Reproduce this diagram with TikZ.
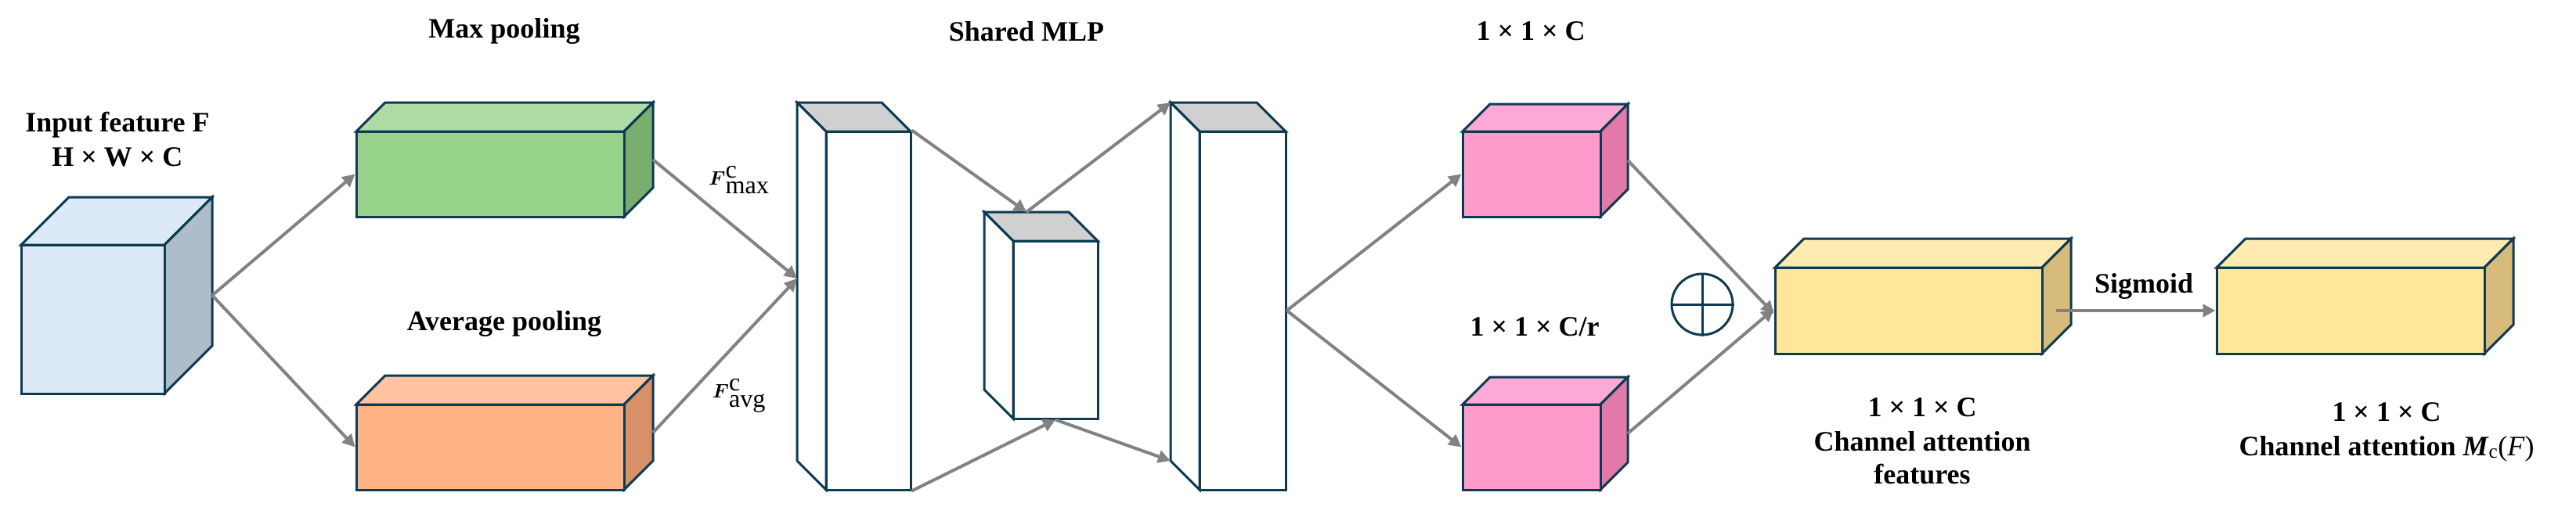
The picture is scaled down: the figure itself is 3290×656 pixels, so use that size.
\documentclass[tikz,border=0pt]{standalone}
\usepackage{amsmath}
\usepackage{fontspec}
\setmainfont{Liberation Serif}
\usetikzlibrary{arrows.meta}
\definecolor{edgec}{HTML}{0E3A52}
\definecolor{arrc}{HTML}{828282}
\definecolor{inF}{HTML}{DCEAF7}\definecolor{inS}{HTML}{AEBDC9}
\definecolor{gF}{HTML}{97D38A}\definecolor{gT}{HTML}{AEDCA4}\definecolor{gS}{HTML}{79AE6F}
\definecolor{oF}{HTML}{FFB385}\definecolor{oT}{HTML}{FFC39F}\definecolor{oS}{HTML}{D79068}
\definecolor{pF}{HTML}{FF9BCB}\definecolor{pT}{HTML}{FFAAD6}\definecolor{pS}{HTML}{E279A8}
\definecolor{yF}{HTML}{FFE699}\definecolor{yT}{HTML}{FFEBB0}\definecolor{yS}{HTML}{D6BB7A}
\definecolor{mT}{HTML}{D0D0D0}
\newcommand\cubR[9]{%
  \filldraw[#8,boxline] (#2,#3)--({#2+#6},{#3-#6})--({#4+#6},{#3-#6})--(#4,#3)--cycle;
  \filldraw[#9,boxline] (#4,#3)--({#4+#6},{#3-#6})--({#4+#6},{#5-#6})--(#4,#5)--cycle;
  \node[boxline,fill=#7,minimum width={(#4-#2)*1pt},minimum height={(#5-#3)*1pt}] (#1) at ({(#2+#4)/2},{(#3+#5)/2}) {};
  \coordinate (#1-side) at ({#4+#6},{(#3+#5)/2-#6/2});
}
\newcommand\cubL[6]{%
  \filldraw[mT,boxline] (#2,#3)--({#2-#6},{#3-#6})--({#4-#6},{#3-#6})--(#4,#3)--cycle;
  \filldraw[white,boxline] (#2,#3)--({#2-#6},{#3-#6})--({#2-#6},{#5-#6})--(#2,#5)--cycle;
  \node[boxline,fill=white,minimum width={(#4-#2)*1pt},minimum height={(#5-#3)*1pt}] (#1) at ({(#2+#4)/2},{(#3+#5)/2}) {};
  \coordinate (#1-topback) at ({(#2+#4)/2-#6},{#3-#6});
  \coordinate (#1-backtl) at ({#2-#6},{#3-#6});
  \coordinate (#1-backbl) at ({#2-#6},{#5-#6});
}
\begin{document}
\begin{tikzpicture}[x=1pt,y=-1pt,
  boxline/.style={draw=edgec,line width=3pt,inner sep=0pt,line join=miter},
  arr/.style={draw=arrc,line width=4pt,-{Triangle[length=16pt,width=16pt]}},
  lbl/.style={font=\bfseries\fontsize{36}{40}\selectfont,align=center,inner sep=0pt}]
\useasboundingbox (0,0) rectangle (3290,656);
\fill[white] (0,0) rectangle (3290,656);
\cubR{inp}{27}{313}{210}{503}{61}{inF}{inF}{inS}
\cubR{mx}{455}{168}{797}{277}{37}{gF}{gT}{gS}
\cubR{av}{455}{517}{797}{626}{37}{oF}{oT}{oS}
\cubL{mlpa}{1055}{168}{1163}{626}{37}
\cubL{mlpb}{1294}{308}{1402}{535}{37}
\cubL{mlpc}{1532}{168}{1642}{626}{37}
\cubR{pa}{1868}{168}{2044}{277}{35}{pF}{pT}{pS}
\cubR{pb}{1868}{517}{2044}{626}{35}{pF}{pT}{pS}
\cubR{ya}{2267}{342}{2608}{452}{37}{yF}{yT}{yS}
\cubR{yb}{2831}{342}{3173}{452}{37}{yF}{yT}{yS}
\node[lbl] (tin) at (150,178) {Input feature F\\[4pt]H × W × C};
\node[lbl] (tmx) at (644,40) {Max pooling};
\node[lbl] (tav) at (644,414) {Average pooling};
\node[lbl] (tml) at (1311,40) {Shared MLP};
\node[lbl] (tpa) at (1955,40) {1 × 1 × C};
\node[lbl] (tpb) at (1960,418) {1 × 1 × C/r};
\node[lbl] (tya) at (2455,564) {1 × 1 × C\\[4pt]Channel attention\\[2pt]features};
\node[lbl] (tyb) at (3048,552) {1 × 1 × C\\[4pt]Channel attention \textit{M}\textsubscript{\mdseries c}\mdseries(\textit{F})};
\node[font=\fontsize{46}{50}\selectfont,inner sep=0pt] (fmx) at (944,230) {$\boldsymbol{F}^{\mathrm{c}}_{\mathrm{max}}$};
\node[font=\fontsize{46}{50}\selectfont,inner sep=0pt] (fav) at (944,506) {$\boldsymbol{F}^{\mathrm{c}}_{\mathrm{avg}}$};
\node[draw=edgec,line width=3pt,circle,minimum size=78pt,inner sep=0pt] (plus) at (2174,389) {};
\draw[edgec,line width=3pt] (plus.north)--(plus.south) (plus.west)--(plus.east);
\draw[arr] (inp-side) -- (mx.west);
\draw[arr] (inp-side) -- (av.west);
\coordinate (m1in) at (1018,356);
\draw[arr] (mx-side) -- (m1in);
\draw[arr] (av-side) -- (m1in);
\draw[arr] (mlpa.north east) -- (mlpb-topback);
\draw[arr] (mlpb-topback) -- (mlpc-backtl);
\draw[arr] (mlpa.south east) -- (mlpb.south);
\draw[arr] (mlpb.south) -- (mlpc-backbl);
\draw[arr] (mlpc.east) -- (pa.west);
\draw[arr] (mlpc.east) -- (pb.west);
\draw[arr] (pa-side) -- ([yshift=-4pt]ya.west);
\draw[arr] (pb-side) -- ([yshift=2pt]ya.west);
\coordinate (sgst) at (2626,397);
\draw[arr] (sgst) -- (yb.west);
\node[lbl] (tsg) at (2738,366) {Sigmoid};
\end{tikzpicture}
\end{document}
